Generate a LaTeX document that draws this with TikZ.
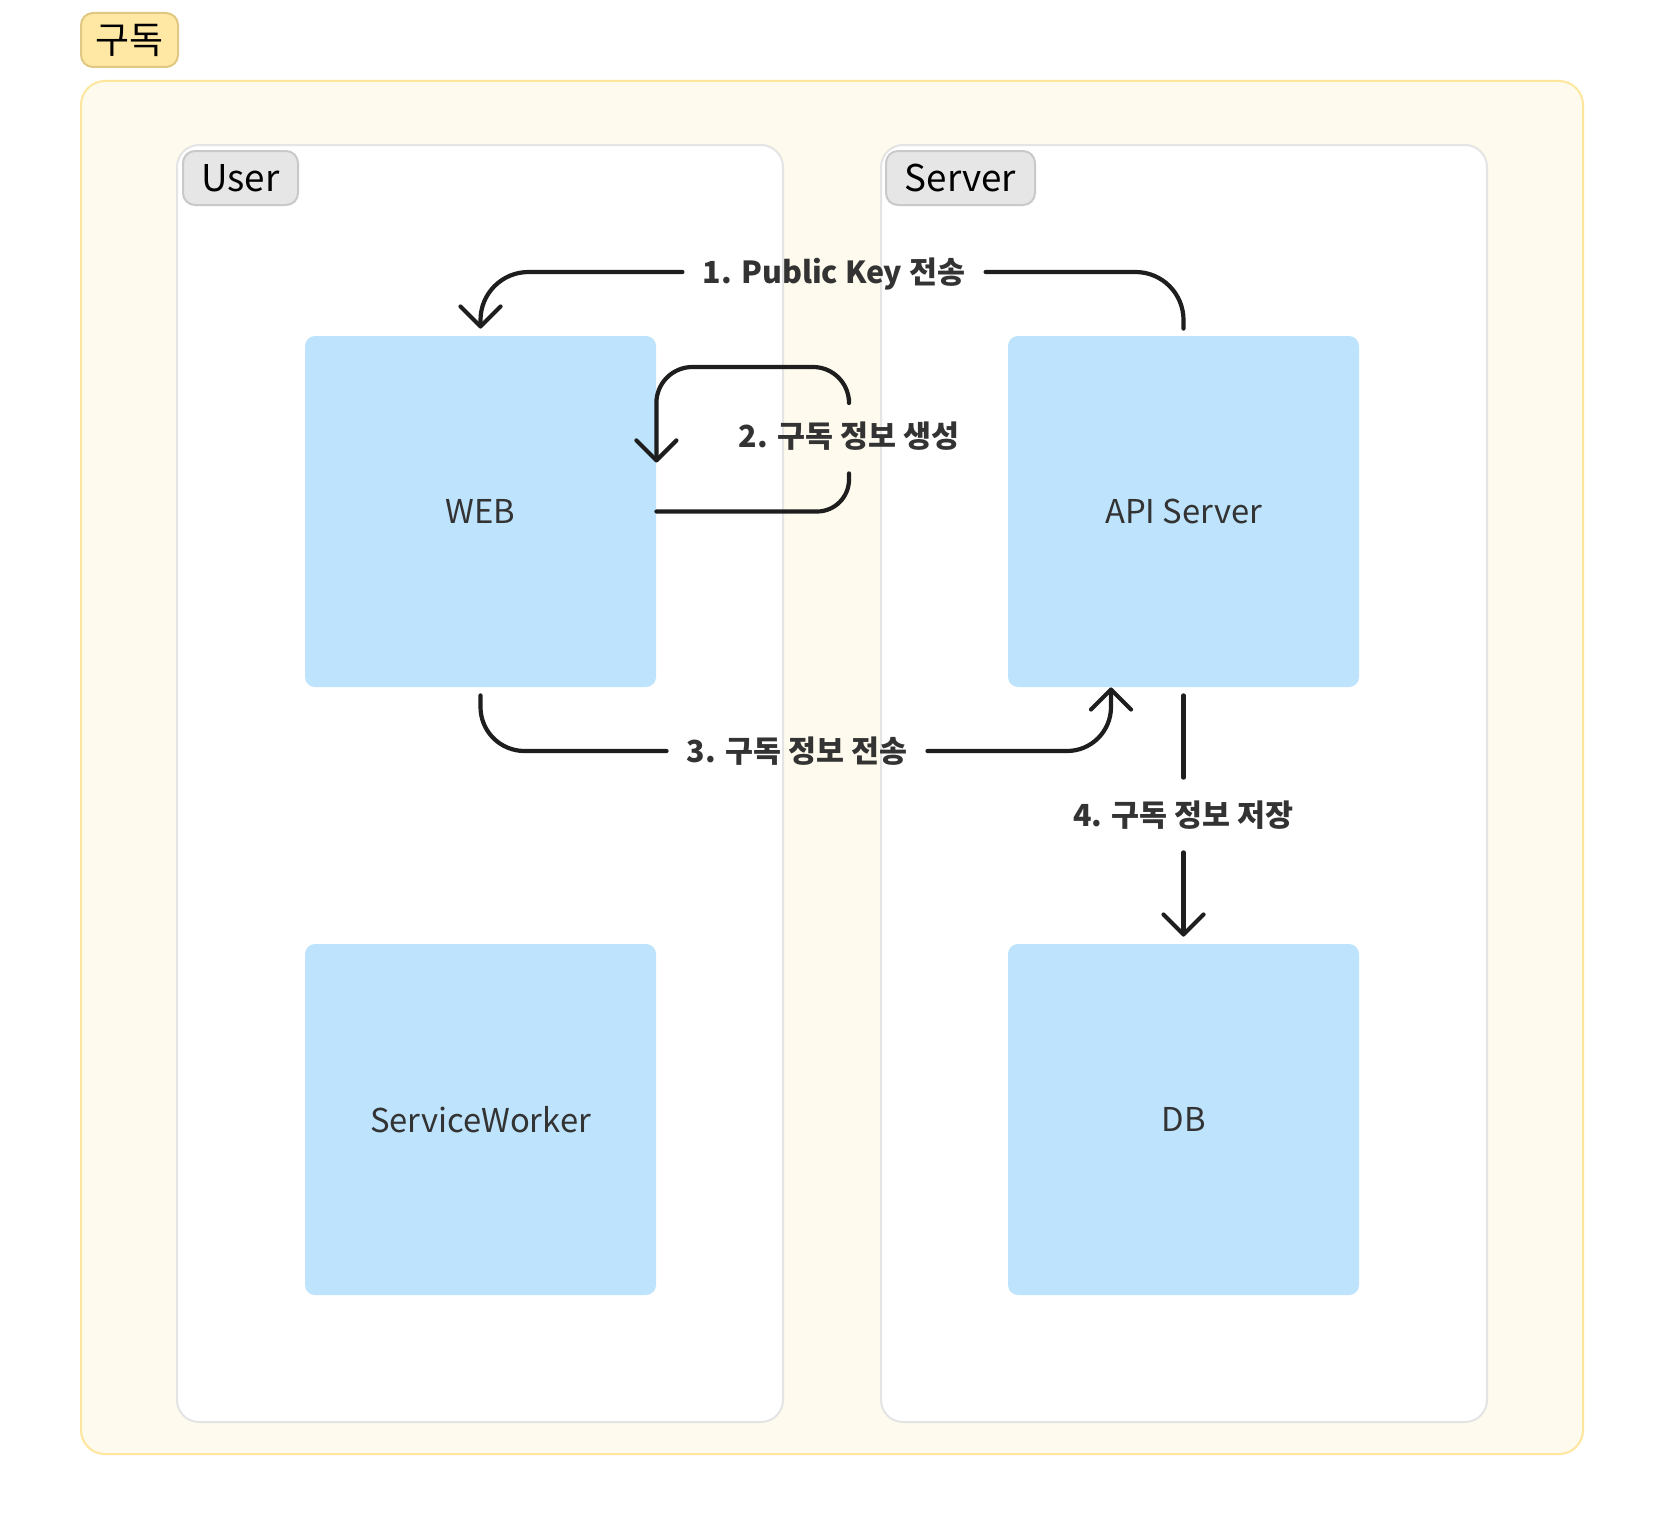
\documentclass[tikz,border=0pt]{standalone}
\usepackage{fontspec}
\setmainfont{Noto Sans CJK KR}
\usetikzlibrary{arrows.meta}
\definecolor{outerfill}{HTML}{FEFBEE}
\definecolor{outerline}{HTML}{FFE69C}
\definecolor{titlefill}{HTML}{FFE8A3}
\definecolor{titleline}{HTML}{E0C882}
\definecolor{contline}{HTML}{E4E4E4}
\definecolor{tagfill}{HTML}{E6E6E6}
\definecolor{tagline}{HTML}{C9C9C9}
\definecolor{boxfill}{HTML}{BEE3FC}
\definecolor{ink}{HTML}{1E1E1E}
\definecolor{txt}{HTML}{333333}
\begin{document}
\begin{tikzpicture}[x=0.5pt,y=-0.5pt,
  outerbox/.style={draw=outerline,fill=outerfill,line width=1pt,rounded corners=12pt},
  contbox/.style={draw=contline,fill=white,line width=1pt,rounded corners=11pt},
  titletag/.style={draw=titleline,fill=titlefill,line width=1pt,rounded corners=6pt,minimum height=27pt,inner sep=0pt,font=\fontsize{18.5pt}{20pt}\selectfont,text=black},
  grptag/.style={draw=tagline,fill=tagfill,line width=1pt,rounded corners=6pt,minimum height=27pt,inner sep=0pt,font=\fontsize{18.4pt}{20pt}\selectfont,text=black},
  box/.style={fill=boxfill,rounded corners=5pt,minimum width=175.5pt,minimum height=175.5pt,inner sep=0pt,font=\fontsize{16.4pt}{18pt}\selectfont,text=txt},
  lbl/.style={inner xsep=10pt,inner ysep=11.5pt,text height=12.5pt,text depth=1.5pt,font=\bfseries\fontsize{15.2pt}{17pt}\selectfont,text=txt},
  conn/.style={draw=ink,line width=2.1pt,line cap=round,line join=round},
  tipv/.tip={Straight Barb[length=10pt,width=20pt,line cap=round,line join=round]}
]
\useasboundingbox (0,0) rectangle (1664,1536);
\fill[white] (0,0) rectangle (1664,1536);

\draw[outerbox] (81,81) rectangle (1583,1454);
\draw[contbox] (177,145) rectangle (783,1422);
\draw[contbox] (881,145) rectangle (1487,1422);

\node[titletag,minimum width=48.5pt] (tsub) at (129.5,40) {\raisebox{-1pt}{구독}};
\node[grptag,minimum width=57.5pt] (tuser) at (240.5,178) {\raisebox{-2pt}{User}};
\node[grptag,minimum width=74.5pt] (tserver) at (960.5,178) {\raisebox{-2pt}{Server}};

\node[box] (web) at (480.5,511.5) {WEB};
\node[box] (api) at (1183.5,511.5) {API Server};
\node[box] (sw) at (480.5,1119.5) {ServiceWorker};
\node[box] (db) at (1183.5,1119.5) {DB};

\node[lbl] (l1) at (834,272) {1. Public Key 전송};
\node[lbl] (l2) at (849,436) {2. 구독 정보 생성};
\node[lbl] (l3) at (797,751) {3. 구독 정보 전송};
\node[lbl] (l4) at (1183.5,815) {4. 구독 정보 저장};

\coordinate (a2top) at (0,367);
\coordinate (a2t) at ([yshift=24.5pt]web.east);
\coordinate (a3t) at ([xshift=-36.25pt]api.south);

% 1
\draw[conn,rounded corners=24pt] ([yshift=3.5pt]api.north) |- (l1.east);
\draw[conn,-tipv,rounded corners=24pt] (l1.west) -| ([yshift=3.5pt]web.north);
% 2
\draw[conn,rounded corners=16pt] (web.east) -| (l2.south);
\draw[conn,-tipv,rounded corners=18pt] (l2.north) -- (l2.north |- a2top) -- (a2t |- a2top) -- (a2t);
% 3
\draw[conn,rounded corners=22pt] ([yshift=-4pt]web.south) |- (l3.west);
\draw[conn,-tipv,rounded corners=22pt] (l3.east) -| (a3t);
% 4
\draw[conn] ([yshift=-4pt]api.south) -- (l4.north);
\draw[conn,-tipv] (l4.south) -- ([yshift=3.5pt]db.north);
\end{tikzpicture}
\end{document}
